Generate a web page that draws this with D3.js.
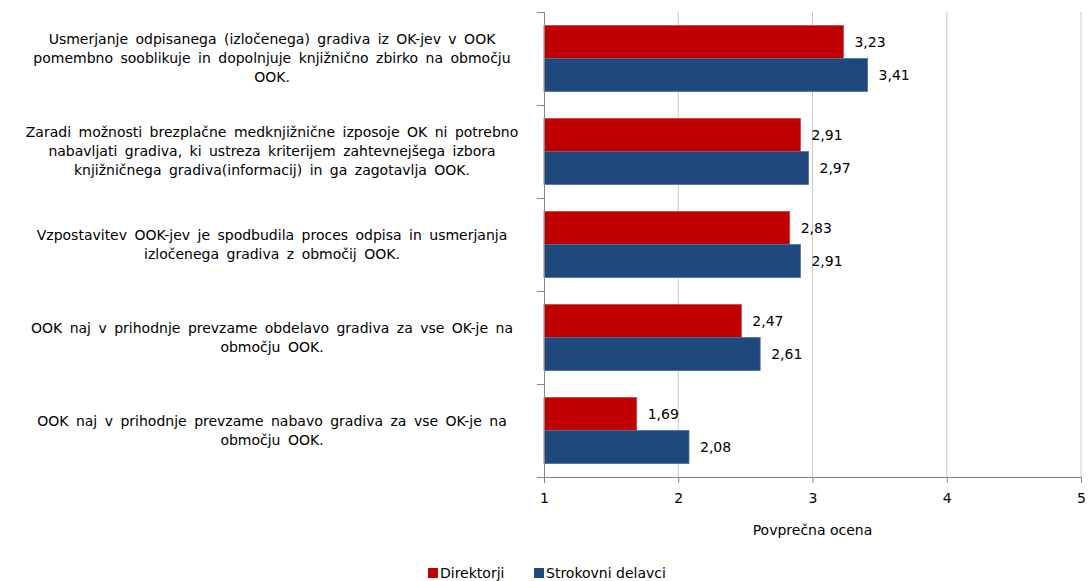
<!DOCTYPE html>
<html>
<head>
<meta charset="utf-8">
<script src="https://cdn.jsdelivr.net/npm/d3@7"></script>
<style>
  body { margin: 0; background: #fff; }
  text { font-family: "DejaVu Sans", sans-serif; fill: #000; }
</style>
</head>
<body>
<div id="chart"></div>
<script>
// categories, each split into the lines shown in the picture
var categories = [
  ['Usmerjanje odpisanega (izločenega) gradiva iz OK-jev v OOK',
   'pomembno sooblikuje in dopolnjuje knjižnično zbirko na območju',
   'OOK.'],
  ['Zaradi možnosti brezplačne medknjižnične izposoje OK ni potrebno',
   'nabavljati gradiva, ki ustreza kriterijem zahtevnejšega izbora',
   'knjižničnega gradiva(informacij) in ga zagotavlja OOK.'],
  ['Vzpostavitev OOK-jev je spodbudila proces odpisa in usmerjanja',
   'izločenega gradiva z območij OOK.'],
  ['OOK naj v prihodnje prevzame obdelavo gradiva za vse OK-je na',
   'območju OOK.'],
  ['OOK naj v prihodnje prevzame nabavo gradiva za vse OK-je na',
   'območju OOK.']
]
var seriesNames = ['Direktorji', 'Strokovni delavci']
var direktorji = [3.23, 2.91, 2.83, 2.47, 1.69]
var strokovni = [3.41, 2.97, 2.91, 2.61, 2.08]
var xTicks = [1, 2, 3, 4, 5]
var colors = ['#c00000', '#1f497d']

var w = 1088, h = 581
var plotL = 544, plotR = 1081, plotT = 12, plotB = 477

var svg = d3.select('#chart').append('svg')
    .attr('width', w)
    .attr('height', h)

var x = d3.scaleLinear().domain([1, 5]).range([plotL, plotR])
var y = d3.scaleBand().domain(d3.range(categories.length)).range([plotT, plotB])
    .paddingInner(0.29).paddingOuter(0.145)
var ySub = d3.scaleBand().domain([0, 1]).range([0, y.bandwidth()])

// gridlines
svg.append('g').selectAll('line')
  .data(xTicks.slice(1))
  .enter().append('line')
    .attr('x1', function(d){return x(d)})
    .attr('x2', function(d){return x(d)})
    .attr('y1', plotT)
    .attr('y2', plotB)
    .attr('stroke', '#c8c8c8')
    .attr('stroke-width', 1)

var rows = categories.map(function(c, i){
  return {i: i, vals: [direktorji[i], strokovni[i]]}
})

var groups = svg.append('g').selectAll('g')
  .data(rows)
  .enter().append('g')
    .attr('transform', function(d){return 'translate(0,' + y(d.i) + ')'})

groups.selectAll('rect')
  .data(function(d){return d.vals})
  .enter().append('rect')
    .attr('x', x(1))
    .attr('y', function(d, j){return ySub(j)})
    .attr('width', function(d){return x(d) - x(1)})
    .attr('height', ySub.bandwidth())
    .attr('fill', function(d, j){return colors[j]})
    .attr('stroke', function(d, j){return j ? '#4f6f9f' : '#d04040'})
    .attr('stroke-width', 0.8)

groups.selectAll('text.val')
  .data(function(d){return d.vals})
  .enter().append('text')
    .attr('class', 'val')
    .attr('x', function(d){return x(d) + 11})
    .attr('y', function(d, j){return ySub(j) + ySub.bandwidth() / 2})
    .attr('dy', '0.35em')
    .style('font-size', '14px')
    .text(function(d){return d.toFixed(2).replace('.', ',')})

// axes
var yAxis = d3.axisLeft(d3.scaleLinear().domain([0, 5]).range([plotT, plotB]))
    .tickValues(d3.range(6)).tickSize(7).tickFormat('')
var gy = svg.append('g').attr('transform', 'translate(' + plotL + ',0)').call(yAxis)
gy.selectAll('path, line').attr('stroke', '#868686')

var xAxis = d3.axisBottom(x).tickValues(xTicks).tickSize(6).tickSizeOuter(0)
    .tickFormat(d3.format('d'))
var gx = svg.append('g').attr('transform', 'translate(0,' + plotB + ')').call(xAxis)
gx.selectAll('path, line').attr('stroke', '#868686')
gx.selectAll('text').style('font-size', '14px').style('font-family', '"DejaVu Sans", sans-serif')
    .attr('fill', '#000').attr('y', 16)

svg.append('text')
    .attr('x', (plotL + plotR) / 2)
    .attr('y', 535)
    .attr('text-anchor', 'middle')
    .style('font-size', '14px')
    .text('Povprečna ocena')

// category labels
var lineH = 19
svg.append('g').selectAll('text')
  .data(categories)
  .enter().append('text')
    .attr('text-anchor', 'middle')
    .style('font-size', '14px')
    .style('word-spacing', '3px')
    .each(function(lines, i){
      var cy = y(i) + y.bandwidth() / 2
      var y0 = cy - (lines.length - 1) * lineH / 2
      d3.select(this).selectAll('tspan')
        .data(lines)
        .enter().append('tspan')
          .attr('x', 272)
          .attr('y', function(d, k){return y0 + k * lineH})
          .attr('dy', '0.35em')
          .text(function(d){return d})
    })

// legend
var legX = [428, 534]
var leg = svg.append('g').selectAll('g')
  .data(seriesNames)
  .enter().append('g')
    .attr('transform', function(d, i){return 'translate(' + legX[i] + ',568)'})
leg.append('rect')
    .attr('width', 10).attr('height', 10)
    .attr('fill', function(d, i){return colors[i]})
leg.append('text')
    .attr('x', 12).attr('y', 5).attr('dy', '0.35em')
    .style('font-size', '14px')
    .text(function(d){return d})
</script>
</body>
</html>
